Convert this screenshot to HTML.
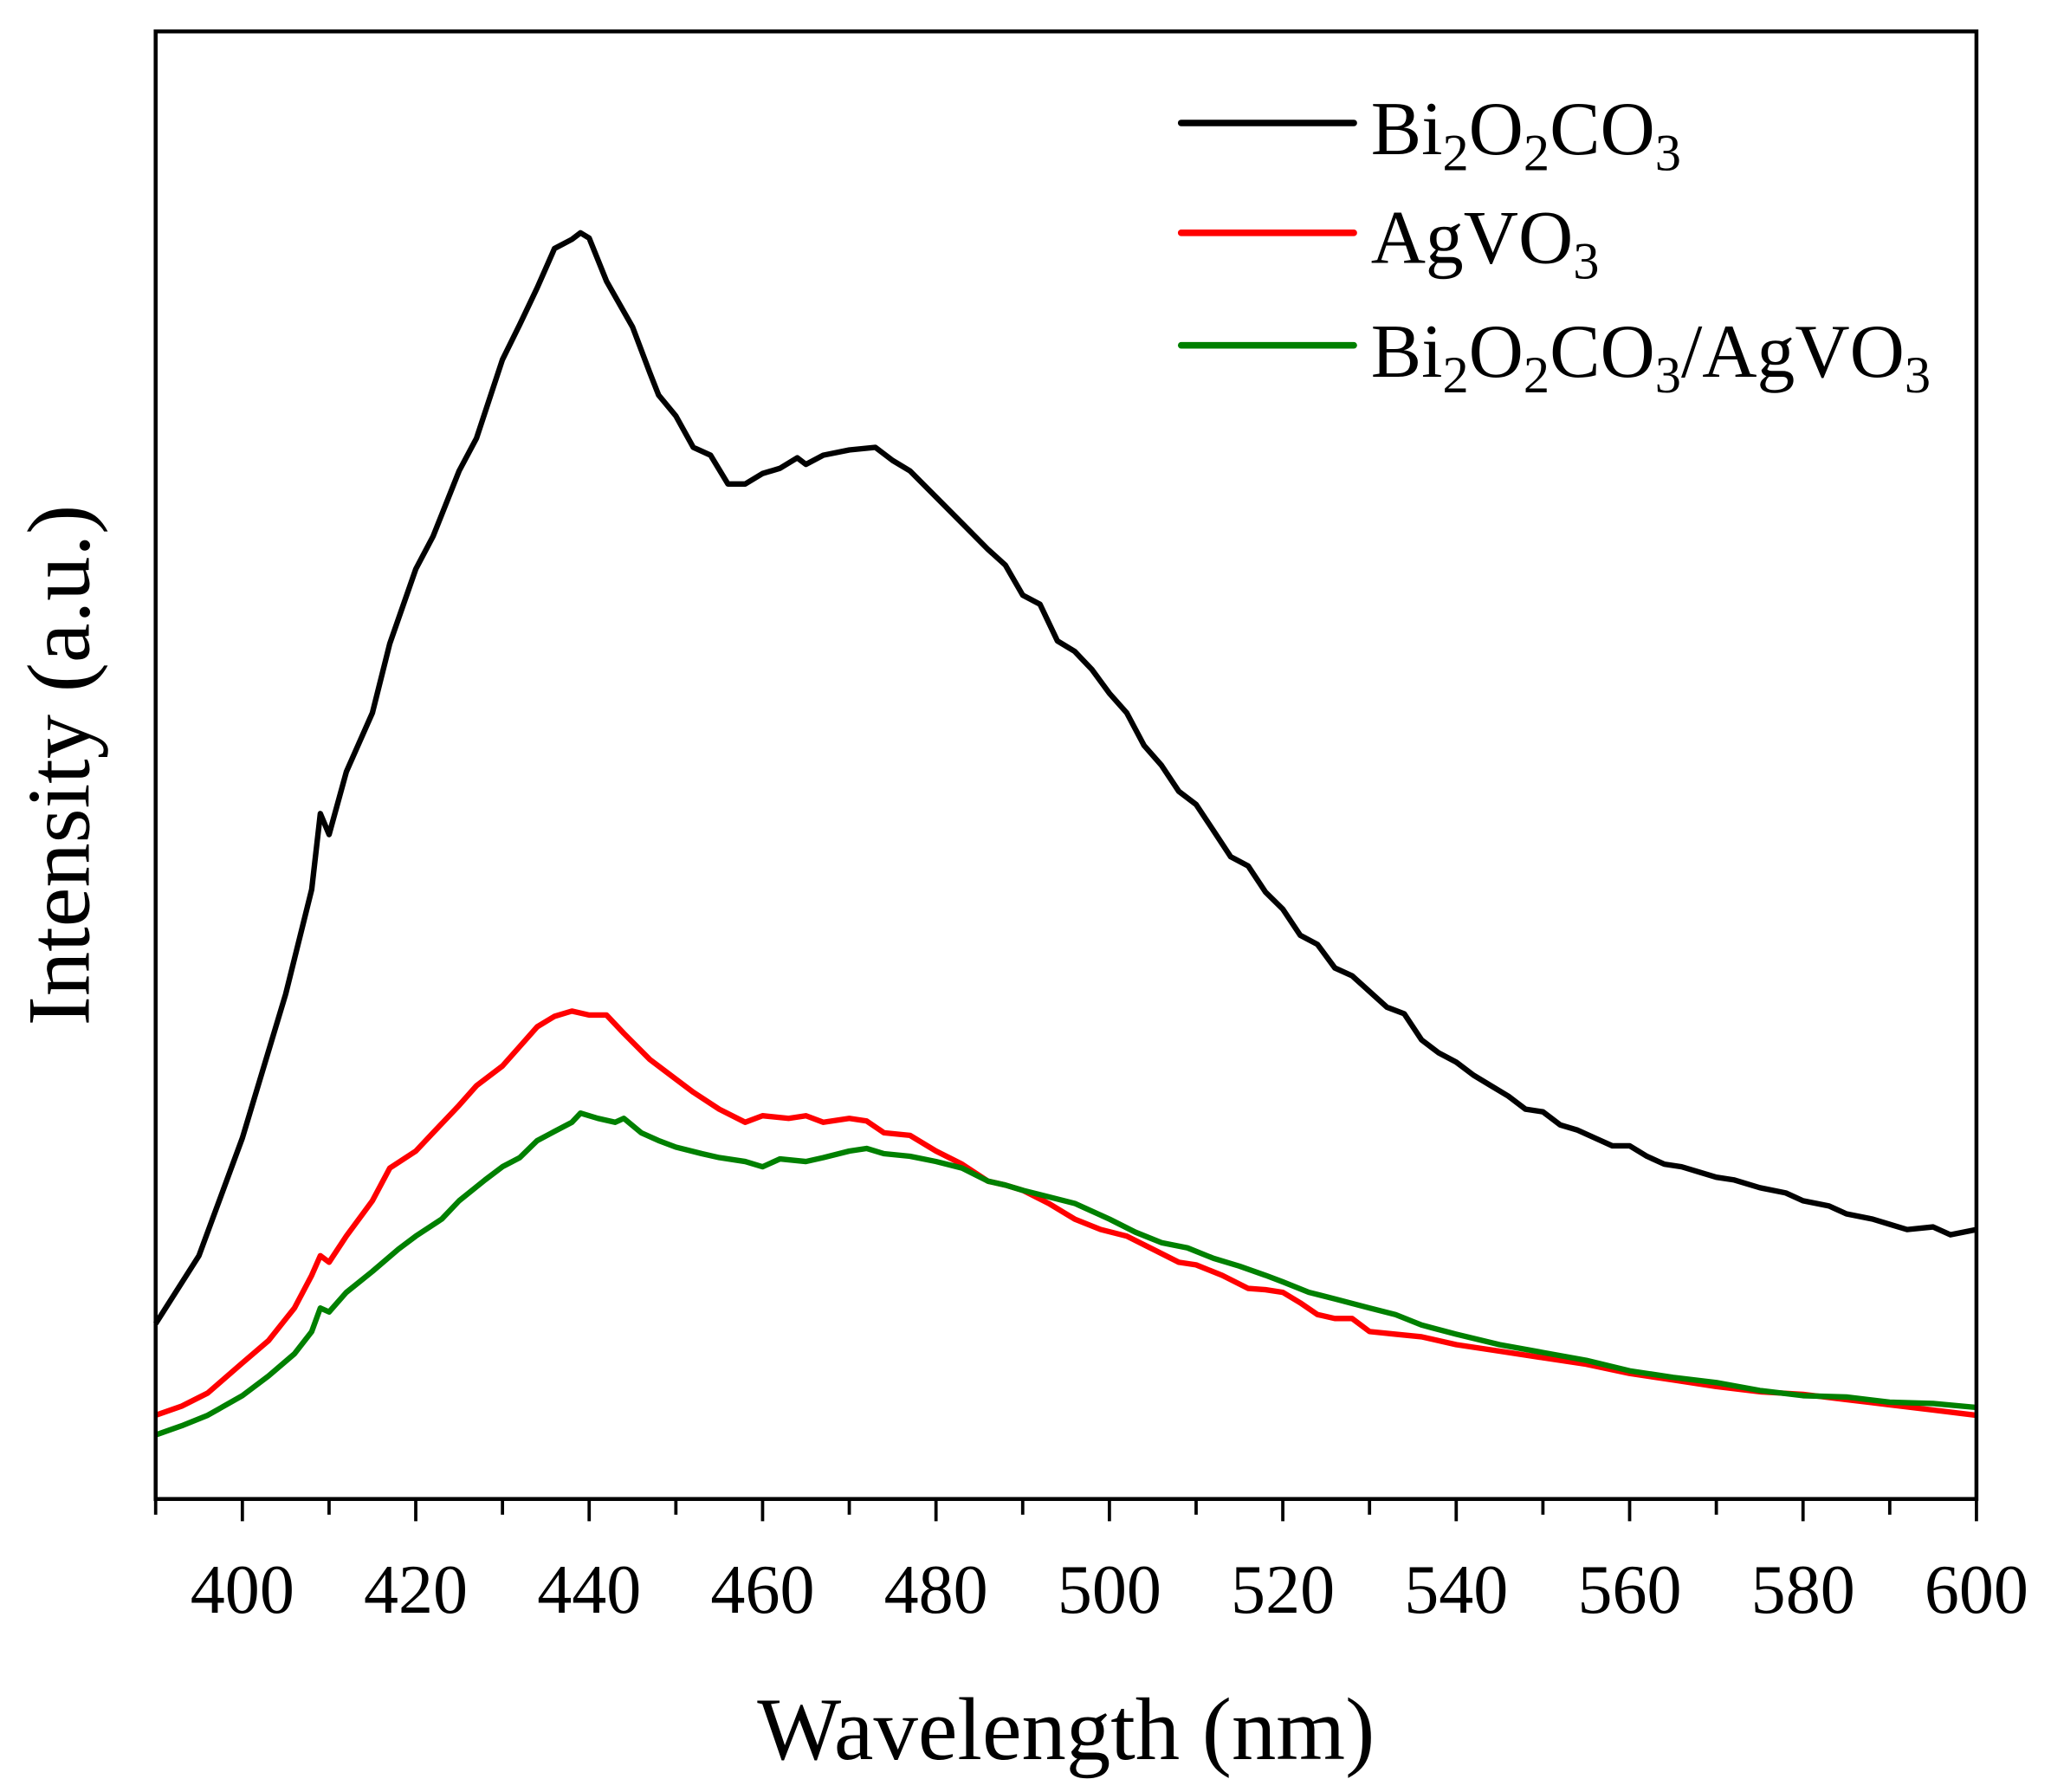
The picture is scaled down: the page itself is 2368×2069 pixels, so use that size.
<!DOCTYPE html>
<html><head><meta charset="utf-8"><style>
html,body{margin:0;padding:0;background:#fff}
svg{display:block}
text{font-family:"Liberation Serif",serif;fill:#000}
</style></head><body>
<svg id="chart" width="2368" height="2069" viewBox="0 0 1568 1370" xmlns="http://www.w3.org/2000/svg">
<g id="plot"></g>
<g id="axes"></g>
<g id="legend">
  <line x1="903" y1="94" x2="1035" y2="94" stroke="#000" stroke-width="5" stroke-linecap="round"/>
  <text x="1048" y="118" font-size="58">Bi<tspan font-size="40" dy="12">2</tspan><tspan dy="-12">O</tspan><tspan font-size="40" dy="12">2</tspan><tspan dy="-12">CO</tspan><tspan font-size="40" dy="12">3</tspan></text>
  <line x1="903" y1="178" x2="1035" y2="178" stroke="#f00" stroke-width="5" stroke-linecap="round"/>
  <text x="1048" y="201" font-size="58">AgVO<tspan font-size="40" dy="12">3</tspan></text>
  <line x1="903" y1="264" x2="1035" y2="264" stroke="#008000" stroke-width="5" stroke-linecap="round"/>
  <text x="1048" y="288" font-size="58">Bi<tspan font-size="40" dy="12">2</tspan><tspan dy="-12">O</tspan><tspan font-size="40" dy="12">2</tspan><tspan dy="-12">CO</tspan><tspan font-size="40" dy="12">3</tspan><tspan dy="-12">/AgVO</tspan><tspan font-size="40" dy="12">3</tspan></text>
</g>
<text x="815" y="1345" font-size="68" text-anchor="middle">Wavelength (nm)</text>
<text transform="translate(68,585) rotate(-90)" font-size="68" text-anchor="middle">Intensity (a.u.)</text>
</svg>
<script>
const blackX=[390,395,400,405,408,409,410,412,415,417,420,422,425,427,430,432,434,436,438,439,440,442,445,447,448,450,452,454,456,458,460,462,464,465,467,470,473,475,477,480,483,486,488,490,492,494,496,498,500,502,504,506,508,510,512,514,516,518,520,522,524,526,528,530,532,534,536,538,540,542,544,546,548,550,552,554,556,558,560,562,564,566,568,570,572,575,578,580,583,585,588,590,592,595,597,600];
const blackY=[1012,960,870,760,680,622,638,590,545,492,435,410,360,335,275,248,220,190,183,178,182,215,250,285,302,318,342,348,370,370,362,358,350,355,348,344,342,352,360,380,400,420,432,455,462,490,498,512,530,545,570,585,605,615,635,655,662,682,695,715,722,740,746,758,770,775,795,805,812,822,830,838,848,850,860,864,870,876,876,884,890,892,896,900,902,908,912,918,922,928,932,936,940,938,944,940].map(v=>1146-v);
const redX=[390,393,396,400,403,406,408,409,410,412,415,417,420,422,425,427,430,432,434,436,438,440,442,444,447,450,452,455,458,460,463,465,467,470,472,474,477,480,483,486,488,490,493,496,499,502,505,508,510,513,516,518,520,522,524,526,528,530,533,536,540,545,550,555,560,565,570,575,580,585,590,595,600];
const redY=[1082,1075,1065,1042,1025,1000,975,960,965,945,918,893,880,866,845,830,815,800,785,777,773,776,776,790,810,825,835,848,858,853,855,853,858,855,857,866,868,880,890,903,906,910,920,932,940,945,955,965,967,975,985,986,988,996,1005,1008,1008,1018,1020,1022,1028,1033,1038,1043,1050,1055,1060,1064,1066,1070,1074,1078,1082].map(v=>1146-v);
const greenX=[390,393,396,400,403,406,408,409,410,412,415,418,420,423,425,428,430,432,434,436,438,439,441,443,444,446,448,450,453,455,458,460,462,465,467,470,472,474,477,480,483,486,488,490,493,496,500,503,506,509,512,515,518,520,523,526,530,533,536,540,545,550,555,560,565,570,575,580,585,590,595,600];
const greenY=[1097,1090,1082,1067,1052,1035,1018,1000,1003,988,972,955,945,932,918,902,892,885,872,865,858,851,855,858,855,866,872,877,882,885,888,892,886,888,885,880,878,882,884,888,893,903,906,910,915,920,932,942,950,954,962,968,975,980,988,993,1000,1005,1013,1020,1028,1034,1040,1048,1053,1057,1063,1067,1068,1072,1073,1076].map(v=>1146-v);
const xTicks=[400,420,440,460,480,500,520,540,560,580,600];

const L=119,R=1511,T=24,B=1146;
const sx=v=>L+(v-390)/(600-390)*(R-L);
const sy=v=>B-v;
const NS='http://www.w3.org/2000/svg';
function mk(tag,attrs,parent){const e=document.createElementNS(NS,tag);for(const k in attrs)e.setAttribute(k,attrs[k]);parent.appendChild(e);return e;}
const plot=document.getElementById('plot'),axes=document.getElementById('axes');
function series(xs,ys,color,name){
  const p=mk('polyline',{points:xs.map((x,i)=>sx(x).toFixed(1)+','+sy(ys[i]).toFixed(1)).join(' '),fill:'none',stroke:color,'stroke-width':4.2,'stroke-linejoin':'round'},plot);
  
  
}
series(blackX,blackY,'#000','series-bi2o2co3');
series(redX,redY,'#f00','series-agvo3');
series(greenX,greenY,'#008000','series-bi2o2co3-agvo3');
const frame=mk('rect',{x:L,y:T,width:R-L,height:B-T,fill:'none',stroke:'#000','stroke-width':3},axes);


for(let v=390;v<=600;v+=10){
  const major=xTicks.includes(v);
  const t=mk('line',{x1:sx(v),y1:B,x2:sx(v),y2:B+(major?17:12),stroke:'#000','stroke-width':2.5},axes);
  
  
}
xTicks.forEach(v=>{
  const t=mk('text',{x:sx(v),y:1233,'font-size':53,'text-anchor':'middle'},axes);
  t.textContent=v;
  
  
});
</script>
</body></html>
